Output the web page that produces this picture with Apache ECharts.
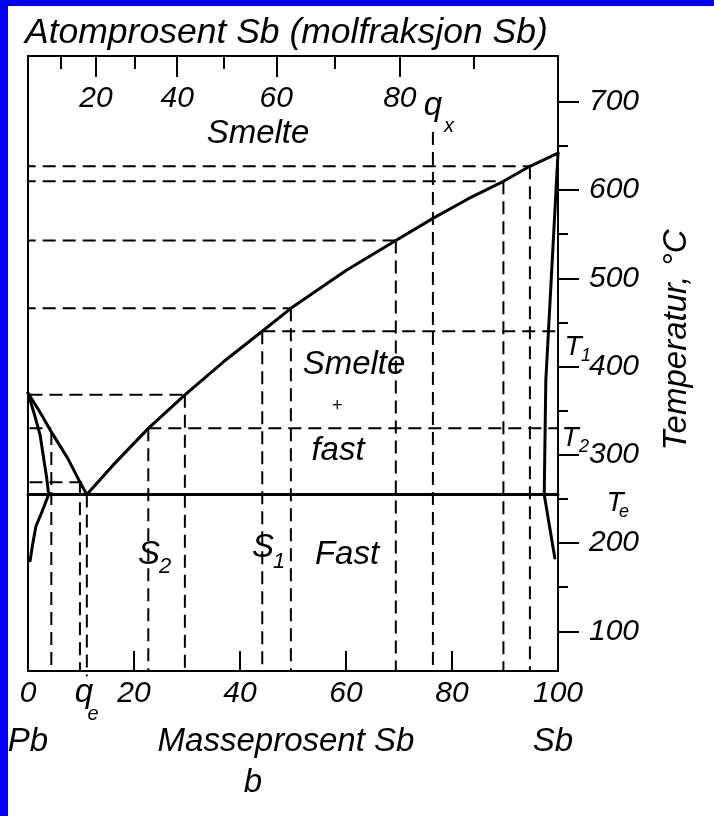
<!DOCTYPE html>
<html><head><meta charset="utf-8">
<script src="https://cdn.jsdelivr.net/npm/echarts@6/dist/echarts.min.js"></script>
<style>
html,body{margin:0;padding:0;background:#0000ff;width:714px;height:816px;overflow:hidden}
#bg{position:absolute;left:8px;top:6px;right:0;bottom:0;background:#fff}
#c{position:absolute;left:0;top:0;width:714px;height:816px}
</style></head><body><div id="bg"></div><div id="c"></div>
<script>
// ---------- data ----------
const massLabels = [0, 20, 40, 60, 80, 100];
const massTicks = [20, 40, 60, 80];
const atomMajor = [20, 40, 60, 80];
const atomMinor = [10, 30, 50, 70, 90];
const tempLabels = [100, 200, 300, 400, 500, 600, 700];
const tempMinor = [150, 250, 350, 450, 550, 650];
const M_SB = 121.76, M_PB = 207.2;

const liquidusLeft = [[0,370],[2.3,348],[4.4,326],[7.5,296],[9.8,269],[11.1,255]];
const solidusLeft = [[0,370],[1.2,346],[2.3,322],[2.9,298],[3.5,275],[3.9,255]];
const solvusLeft = [[3.9,255],[2.6,235],[1.5,219],[0.8,196],[0.4,180]];
const liquidusRight = [[11.1,255],[16,288],[22.7,330],[29.6,368],[37,406],[44.2,440],[49.6,466],[60,509],[69.4,543],[76.4,568],[83,590],[89.7,610],[94.7,627],[100,642]];
const solidusRight = [[100,642],[97.7,384],[97.4,255]];
const solvusRight = [[97.4,255],[99.4,183]];
const eutecticT = 255;

const dropX = [4.4, 9.8, 11.1, 22.7, 29.6, 44.2, 49.6, 69.4, 76.4, 89.7, 94.7];
const dropT = [326, 269, 255, 330, 368, 440, 466, 543, 666, 610, 627];
const hFrom = [-1, -1, -1, -1, 44.2, -3.5, -3.5, 22.7, -3.5];
const hTo   = [94.7, 89.7, 69.4, 49.6, 100, 29.6, 4.4, 100, 10.2];
const hT    = [627, 610, 543, 466, 440, 368, 330, 330, 269];

// ---------- helpers ----------
const Y_MIN = 55, Y_MAX = 752;
const atomToMass = a => 100 * a * M_SB / (a * M_SB + (100 - a) * M_PB);
const majorPos = atomMajor.map(atomToMass);
const minorPos = atomMinor.map(atomToMass);
const FONT = '"Liberation Sans", Arial, sans-serif';

const solid = (data, w) => ({type:'line', data, symbol:'none', clip:false, silent:true,
  lineStyle:{color:'#000', width:w || 3, cap:'round', join:'round'}, z:4});
const dashed = (data) => ({type:'line', data, symbol:'none', clip:false, silent:true,
  lineStyle:{color:'#000', width:2, type:[13,7]}, z:3});

const series = [
  solid(liquidusLeft), solid(solidusLeft), solid(solvusLeft),
  solid(liquidusRight), solid(solidusRight), solid(solvusRight),
  solid([[0,eutecticT],[100,eutecticT]]),
  solid([[100,eutecticT],[106.4,eutecticT]], 2)
];
dropX.forEach((x, i) => {
  const end = (x === 11.1) ? Y_MIN - 6 : Y_MIN;
  series.push(dashed([[x, dropT[i]], [x, end]]));
});
hT.forEach((t, i) => series.push(dashed([[hFrom[i], t], [hTo[i], t]])));

const txt = (text, x, y, size, extra) => Object.assign({
  type:'text', x, y, silent:true, z:10,
  style:{text, fill:'#000', fontSize:size, fontFamily:FONT, fontStyle:'italic',
    align:'center', verticalAlign:'middle', textAlign:'center', textVerticalAlign:'middle'}
}, extra || {});

const graphics = [
  txt('', 0, 0, 10, {style:{text:'Atomprosent Sb (molfraksjon Sb)', fill:'#000', fontSize:35.5, fontFamily:FONT, fontStyle:'italic', align:'left', textAlign:'left', verticalAlign:'middle', textVerticalAlign:'middle'}, x:25, y:33}),
  txt('Smelte', 258, 134, 33),
  txt('q', 433, 106, 33), txt('x', 449, 126, 20),
  txt('Smelte', 354, 365, 33),
  txt('+', 337, 406, 18),
  txt('fast', 338, 451, 33),
  txt('S', 149, 555, 33), txt('2', 165, 567, 22),
  txt('S', 263, 548, 33), txt('1', 279, 562, 22),
  txt('Fast', 347, 555, 33),
  txt('q', 84, 693, 33), txt('e', 93, 714, 20),
  txt('Pb', 28, 742, 33), txt('Masseprosent Sb', 286, 742, 33), txt('Sb', 553, 742, 33),
  txt('b', 253, 783, 33),
  txt('T', 573, 347, 28), txt('1', 586, 356, 18),
  txt('T', 570, 438, 28), txt('2', 584, 447, 18),
  txt('T', 615, 503, 28), txt('e', 624, 512, 18),
  txt('Temperatur, °C', 677, 340, 33, {rotation: Math.PI / 2})
];

const chart = echarts.init(document.getElementById('c'), null, {renderer:'canvas'});
chart.setOption({
  animation:false,
  backgroundColor:'transparent',
  grid:{left:28, top:56, width:530, height:615, show:true, borderColor:'#000', borderWidth:2,
    backgroundColor:'transparent', containLabel:false, outerBoundsMode:'none'},
  xAxis:[
    {type:'value', min:0, max:100, position:'bottom',
      axisLine:{show:false, onZero:false}, splitLine:{show:false},
      axisTick:{show:true, inside:true, length:20, customValues:massTicks, lineStyle:{color:'#000', width:2}},
      axisLabel:{customValues:massLabels, margin:8, color:'#000', fontSize:30, fontStyle:'italic', fontFamily:FONT}},
    {type:'value', min:0, max:100, position:'top',
      axisLine:{show:false, onZero:false}, splitLine:{show:false},
      axisTick:{show:true, inside:true, length:21, customValues:majorPos, lineStyle:{color:'#000', width:2}},
      axisLabel:{inside:true, customValues:majorPos, margin:28, color:'#000', fontSize:30, fontStyle:'italic', fontFamily:FONT,
        formatter: v => { let b = 0; majorPos.forEach((p, i) => { if (Math.abs(p - v) < Math.abs(majorPos[b] - v)) b = i; }); return String(atomMajor[b]); }}},
    {type:'value', min:0, max:100, position:'top',
      axisLine:{show:false, onZero:false}, splitLine:{show:false},
      axisTick:{show:true, inside:true, length:13, customValues:minorPos, lineStyle:{color:'#000', width:2}},
      axisLabel:{show:false}}
  ],
  yAxis:[
    {type:'value', min:Y_MIN, max:Y_MAX, position:'right',
      axisLine:{show:false, onZero:false}, splitLine:{show:false},
      axisTick:{show:true, inside:false, length:21, customValues:tempLabels, lineStyle:{color:'#000', width:2}},
      axisLabel:{customValues:tempLabels, margin:31, color:'#000', fontSize:30, fontStyle:'italic', fontFamily:FONT}},
    {type:'value', min:Y_MIN, max:Y_MAX, position:'right',
      axisLine:{show:false, onZero:false}, splitLine:{show:false},
      axisTick:{show:true, inside:false, length:10, customValues:tempMinor, lineStyle:{color:'#000', width:2}},
      axisLabel:{show:false}}
  ],
  series,
  graphic:graphics
});
</script></body></html>
